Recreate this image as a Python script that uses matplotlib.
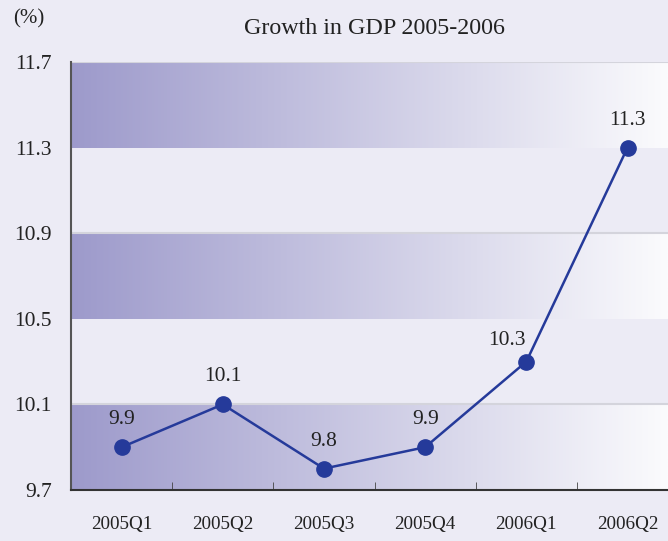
import matplotlib.pyplot as plt
import numpy as np
from matplotlib.colors import LinearSegmentedColormap

# Рост ВВП по кварталам
quarters = ['2005Q1', '2005Q2', '2005Q3', '2005Q4', '2006Q1', '2006Q2']
growth = [9.9, 10.1, 9.8, 9.9, 10.3, 11.3]
y_ticks = [9.7, 10.1, 10.5, 10.9, 11.3, 11.7]

bg = '#ecebf5'
line_color = '#253a9a'
font = ['Liberation Serif', 'DejaVu Serif']
plt.rcParams['font.family'] = font

fig = plt.figure(figsize=(6.68, 5.41), dpi=100, facecolor=bg)
ax = fig.add_axes([71 / 668, 51 / 541, 1 - 71 / 668, 428 / 541])
ax.set_facecolor(bg)

# Полосы с градиентом
cmap = LinearSegmentedColormap.from_list('band', ['#9d9acb', '#fbfbfd'])
grad = np.linspace(0, 1, 256).reshape(1, -1)
for lo in [9.7, 10.5, 11.3]:
    ax.imshow(grad, cmap=cmap, aspect='auto', extent=(-0.5, 5.4, lo, lo + 0.4),
              zorder=0, interpolation='bilinear')
    ax.axhline(lo + 0.4, color='#d4d4dc', lw=1.5, zorder=1)
ax.set_xlim(-0.5, 5.4)
ax.set_ylim(9.7, 11.7)

x = np.arange(len(quarters))
ax.plot(x, growth, color=line_color, lw=1.8, marker='o', markersize=11, zorder=3)
for xi, v in zip(x, growth):
    # подпись 10.3 сдвинута влево, чтобы не лежать на линии
    off = (-14, 8) if xi == 4 else (0, 13)
    ax.annotate(f'{v}', (xi, v), xytext=off, textcoords='offset points',
                ha='center', va='bottom', fontsize=15.5, color='#222222')

ax.set_yticks(y_ticks)
ax.set_yticklabels([f'{t}' for t in y_ticks], fontsize=15.5, color='#222222')
ax.set_xticks(x)
ax.set_xticklabels(quarters, fontsize=13.8, color='#222222')
ax.set_xticks(x[:-1] + 0.5, minor=True)
ax.tick_params(axis='y', length=0, pad=14)
ax.tick_params(axis='x', which='major', length=0, pad=19)
ax.tick_params(axis='x', which='minor', length=6, direction='in', color='#444444')

for s in ['top', 'right']:
    ax.spines[s].set_visible(False)
ax.spines['left'].set_color('#555555')
ax.spines['left'].set_linewidth(1.5)
ax.spines['bottom'].set_color('#333333')
ax.spines['bottom'].set_linewidth(1.5)

fig.text(375 / 668, 1 - 28 / 541, 'Growth in GDP 2005-2006', ha='center', va='center',
         fontsize=17.3, color='#222222')
fig.text(29 / 668, 1 - 19 / 541, '(%)', ha='center', va='center', fontsize=15, color='#222222')

fig.savefig('out.png', dpi=100, facecolor=bg)
